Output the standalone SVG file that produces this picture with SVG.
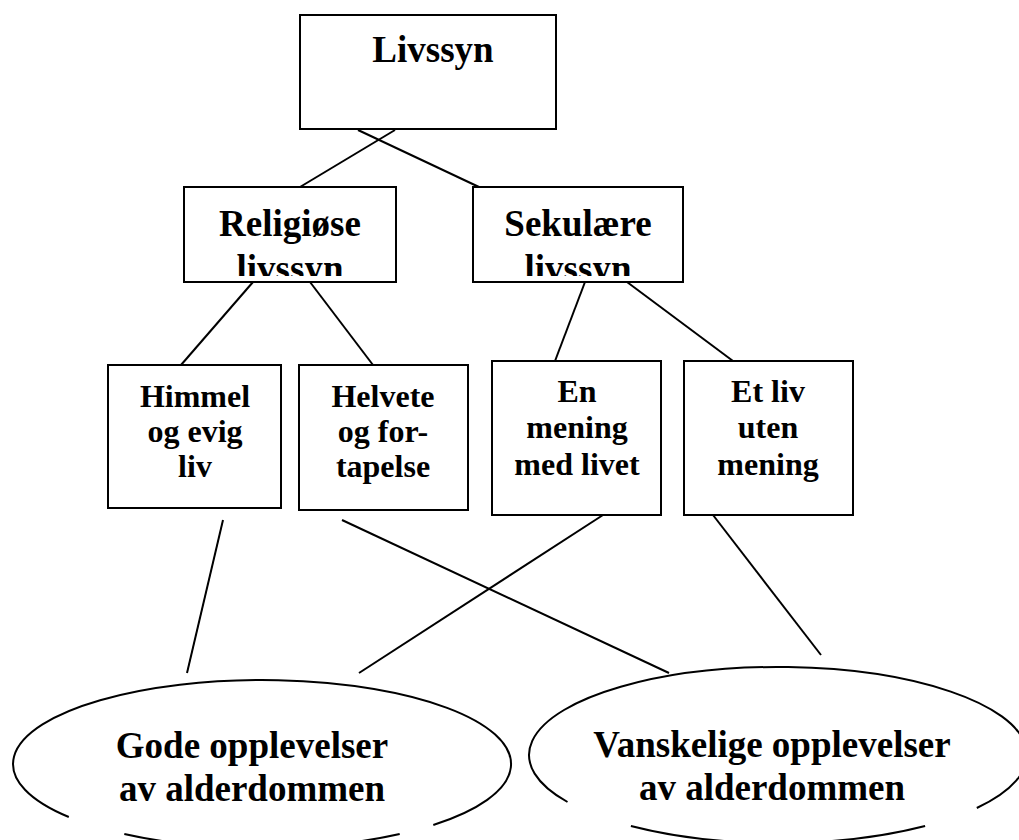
<svg xmlns="http://www.w3.org/2000/svg" width="1019" height="840" viewBox="0 0 1019 840">
<style>
.box{fill:#fff;stroke:#000;stroke-width:2}
.ln{stroke:#000;stroke-width:2;fill:none}
.ell{stroke:#000;stroke-width:2;fill:none}
text{font-family:"Liberation Serif","Times New Roman",serif;font-weight:bold;fill:#000;text-anchor:middle}
.t37{font-size:37px}
.t32{font-size:32px}
</style>
<defs>
<clipPath id="clipRel"><rect x="185" y="188" width="210" height="88"/></clipPath>
<clipPath id="clipSek"><rect x="474" y="188" width="208" height="88"/></clipPath>
</defs>
<rect width="1019" height="840" fill="#fff"/>
<g id="connectors">
<line class="ln" x1="395" y1="130" x2="300" y2="187"/>
<line class="ln" x1="358" y1="130" x2="479" y2="187"/>
<line class="ln" x1="253" y1="282" x2="181" y2="365"/>
<line class="ln" x1="310" y1="282" x2="373" y2="365"/>
<line class="ln" x1="585" y1="282" x2="555" y2="361"/>
<line class="ln" x1="627" y1="282" x2="733" y2="361"/>
<line class="ln" x1="223" y1="520" x2="187" y2="673"/>
<line class="ln" x1="342" y1="520" x2="669" y2="673"/>
<line class="ln" x1="603" y1="515" x2="359" y2="673"/>
<line class="ln" x1="713" y1="515" x2="821" y2="655"/>
</g>
<g id="livssyn">
<rect class="box" x="300" y="15" width="256" height="114"/>
<text class="t37" x="433" y="62">Livssyn</text>
</g>
<g id="religiose">
<rect class="box" x="184" y="187" width="212" height="95"/>
<g clip-path="url(#clipRel)">
<text class="t37" x="290" y="236">Religiøse</text>
<text class="t37" x="290" y="281">livssyn</text>
</g>
</g>
<g id="sekulare">
<rect class="box" x="473" y="187" width="210" height="95"/>
<g clip-path="url(#clipSek)">
<text class="t37" x="578" y="236">Sekulære</text>
<text class="t37" x="578" y="281">livssyn</text>
</g>
</g>
<g id="himmel">
<rect class="box" x="108" y="365" width="173" height="143"/>
<text class="t32" x="195" y="407">Himmel</text>
<text class="t32" x="195" y="442">og evig</text>
<text class="t32" x="195" y="477">liv</text>
</g>
<g id="helvete">
<rect class="box" x="299" y="365" width="169" height="145"/>
<text class="t32" x="383" y="407">Helvete</text>
<text class="t32" x="383" y="442">og for-</text>
<text class="t32" x="383" y="477">tapelse</text>
</g>
<g id="mening">
<rect class="box" x="492" y="361" width="169" height="154"/>
<text class="t32" x="577" y="402">En</text>
<text class="t32" x="577" y="438">mening</text>
<text class="t32" x="577" y="475">med livet</text>
</g>
<g id="utenmening">
<rect class="box" x="684" y="361" width="169" height="154"/>
<text class="t32" x="768" y="402">Et liv</text>
<text class="t32" x="768" y="438">uten</text>
<text class="t32" x="768" y="475">mening</text>
</g>
<g id="gode">
<path class="ell" d="M 68.8 817 A 249 84 0 1 1 433.3 825 M 124.3 834 A 249 84 0 0 0 399.7 834"/>
<text class="t37" x="252" y="758">Gode opplevelser</text>
<text class="t37" x="252" y="801">av alderdommen</text>
</g>
<g id="vanskelige">
<path class="ell" d="M 567.5 802 A 249 88 0 1 1 976.8 808 M 630.9 826 A 249 88 0 0 0 925.1 826"/>
<text class="t37" x="772" y="757">Vanskelige opplevelser</text>
<text class="t37" x="772" y="800">av alderdommen</text>
</g>
</svg>
